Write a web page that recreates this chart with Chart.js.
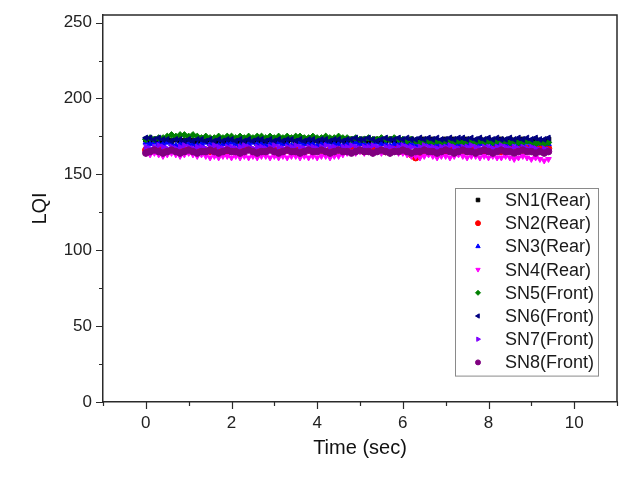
<!DOCTYPE html>
<html>
<head>
<meta charset="utf-8">
<script src="https://cdn.jsdelivr.net/npm/chart.js@4/dist/chart.umd.min.js"></script>
<style>
  html, body { margin: 0; padding: 0; background: #fff; }
  #wrap { width: 643px; height: 477px; }
</style>
</head>
<body>
<div id="wrap"><canvas id="lqi-chart" width="643" height="477"></canvas></div>
<script>
// time stamps (sec)
const times = [0,0.1,0.2,0.3,0.4,0.5,0.6,0.7,0.8,0.9, 1,1.1,1.2,1.3,1.4,1.5,1.6,1.7,1.8,1.9,
    2,2.1,2.2,2.3,2.4,2.5,2.6,2.7,2.8,2.9, 3,3.1,3.2,3.3,3.4,3.5,3.6,3.7,3.8,3.9,
    4,4.1,4.2,4.3,4.4,4.5,4.6,4.7,4.8,4.9, 5,5.1,5.2,5.3,5.4,5.5,5.6,5.7,5.8,5.9,
    6,6.1,6.2,6.3,6.4,6.5,6.6,6.7,6.8,6.9, 7,7.1,7.2,7.3,7.4,7.5,7.6,7.7,7.8,7.9,
    8,8.1,8.2,8.3,8.4,8.5,8.6,8.7,8.8,8.9, 9,9.1,9.2,9.3,9.4];

const sn1Rear = [173,172,173,172,172,173,172,173,172,172, 173,172,172,173,172,173,172,172,173,172,
    172,173,172,172,173,172,173,172,172,173, 172,172,173,172,173,172,172,173,172,172,
    173,172,172,173,172,172,173,172,173,172, 172,173,172,172,173,172,172,173,172,173,
    172,172,173,172,172,173,172,173,172,172, 173,172,173,172,172,173,172,172,173,172,
    173,172,172,173,172,173,172,172,173,172, 172,173,172,172,173];
const sn2Rear = [166,165,166,167,166,165,166,166,167,166, 165,166,167,166,166,165,166,167,166,165,
    166,166,165,166,167,166,165,166,166,167, 166,165,166,166,167,166,165,166,166,167,
    166,166,165,166,167,166,166,165,166,167, 166,165,166,167,166,166,165,166,167,166,
    165,166,163,161,164,166,165,166,167,166, 165,166,166,167,166,165,166,167,166,165,
    166,167,166,165,166,167,166,167,166,167, 167,166,167,168,167];
const sn3Rear = [171,170,171,170,170,171,170,169,170,171, 170,170,169,170,171,170,170,169,170,170,
    171,170,169,170,170,171,170,170,169,170, 170,171,170,170,169,170,171,170,170,170,
    169,170,170,171,170,170,169,170,170,171, 170,170,169,170,171,170,170,169,170,170,
    171,170,170,169,170,171,170,170,170,169, 170,171,170,170,169,170,171,171,170,170,
    171,170,170,171,170,170,171,170,170,171, 170,170,171,170,170];
const sn4Rear = [164,163,164,163,162,163,164,163,162,163, 164,163,162,163,162,161,162,161,162,162,
    161,162,161,162,161,162,161,162,162,161, 162,161,162,161,162,162,161,162,161,162,
    161,162,162,161,162,162,163,164,165,164, 165,164,165,164,165,164,165,164,165,164,
    164,163,162,162,161,162,163,162,161,162, 162,161,162,163,162,161,162,162,161,162,
    161,162,161,161,162,161,160,161,162,161, 160,161,160,159,160];
const sn5Front = [173,174,173,174,174,175,176,175,176,176, 175,176,175,174,175,174,174,175,174,175,
    175,174,175,174,175,174,175,175,174,175, 174,175,174,175,174,175,175,174,174,175,
    174,174,175,174,174,175,174,174,173,174, 173,173,174,173,173,174,173,173,174,173,
    173,172,173,172,171,172,172,171,172,171, 172,172,171,172,171,172,172,171,172,171,
    172,171,172,171,172,171,172,171,171,172, 171,170,171,170,171];
const sn6Front = [174,174,173,174,173,173,172,173,173,172, 173,172,173,173,172,173,172,173,172,173,
    173,172,173,172,173,172,173,173,172,173, 172,173,172,173,173,172,173,172,173,173,
    172,173,173,172,173,173,172,173,173,174, 173,173,174,173,172,173,174,173,173,174,
    173,174,173,173,174,173,174,173,174,173, 173,174,173,174,174,173,174,173,174,173,
    174,173,174,173,173,174,173,174,173,174, 173,174,173,173,174];
const sn7Front = [168,167,168,169,168,167,168,167,168,169, 168,167,168,168,167,168,169,168,167,168,
    168,167,168,169,168,167,168,168,167,168, 169,168,167,168,168,169,168,167,168,168,
    167,168,169,168,168,167,168,168,169,168, 167,168,168,169,168,167,168,168,167,168,
    169,168,168,167,168,169,168,168,167,168, 168,169,168,167,168,168,169,168,167,168,
    168,167,168,169,168,167,168,167,168,167, 168,167,166,167,166];
const sn8Front = [164,165,166,165,164,165,166,165,164,165, 166,165,164,165,165,166,165,164,165,166,
    165,165,164,165,166,165,164,165,165,166, 165,164,165,166,165,165,164,165,166,165,
    165,166,165,164,165,166,165,165,164,165, 166,165,165,164,165,166,165,164,165,165,
    166,165,164,165,165,166,165,165,164,165, 166,165,164,165,166,165,165,164,165,166,
    165,164,165,166,165,165,164,165,166,165, 165,164,165,164,165];

const seriesNames = ["SN1(Rear)", "SN2(Rear)", "SN3(Rear)", "SN4(Rear)",
    "SN5(Front)", "SN6(Front)", "SN7(Front)", "SN8(Front)"];
const seriesValues = [sn1Rear, sn2Rear, sn3Rear, sn4Rear, sn5Front, sn6Front, sn7Front, sn8Front];
const seriesColors = ["#000000", "#ff0000", "#0000ff", "#ff00ff",
    "#008000", "#000080", "#8000ff", "#800080"];
const seriesStyles = ["rect", "circle", "triangle", "triangle",
    "rectRot", "triangle", "triangle", "circle"];
const seriesRotation = [0, 0, 0, 180, 0, 270, 90, 0];

const xMajorTicks = [0, 2, 4, 6, 8, 10];
const xMinorTicks = [-1, 1, 3, 5, 7, 9, 11];
const yMajorTicks = [0, 50, 100, 150, 200, 250];
const yMinorTicks = [25, 75, 125, 175, 225];

const FONT = "'Liberation Sans', Arial, sans-serif";
const AXIS_COLOR = "#2a2a2a";

const lqiDatasets = seriesNames.map((name, i) => ({
    label: name,
    data: times.map((t, k) => ({ x: t, y: seriesValues[i][k] })),
    showLine: false,
    pointStyle: seriesStyles[i],
    rotation: seriesRotation[i],
    pointRadius: 3.3,
    pointBorderWidth: 1,
    borderColor: seriesColors[i],
    backgroundColor: seriesColors[i],
    order: seriesNames.length - i,
}));

// frame, outward tick marks and boxed legend like the original plot
const framePlugin = {
    id: "frame",
    afterDraw(chart) {
        const ctx = chart.ctx;
        const area = chart.chartArea;
        const xs = chart.scales.x;
        const ys = chart.scales.y;
        ctx.save();
        ctx.strokeStyle = AXIS_COLOR;
        ctx.lineWidth = 1.5;
        ctx.beginPath();
        ctx.moveTo(area.left, area.top);
        ctx.lineTo(area.right, area.top);
        ctx.lineTo(area.right, area.bottom);
        ctx.stroke();

        ctx.lineWidth = 1.2;
        ctx.beginPath();
        yMajorTicks.forEach(v => {
            const py = Math.round(ys.getPixelForValue(v)) + 0.5;
            ctx.moveTo(area.left, py); ctx.lineTo(area.left - 7, py);
        });
        yMinorTicks.forEach(v => {
            const py = Math.round(ys.getPixelForValue(v)) + 0.5;
            ctx.moveTo(area.left, py); ctx.lineTo(area.left - 4, py);
        });
        xMajorTicks.forEach(v => {
            const px = Math.round(xs.getPixelForValue(v)) + 0.5;
            ctx.moveTo(px, area.bottom); ctx.lineTo(px, area.bottom + 7);
        });
        xMinorTicks.forEach(v => {
            const px = Math.round(xs.getPixelForValue(v)) + 0.5;
            ctx.moveTo(px, area.bottom); ctx.lineTo(px, area.bottom + 4);
        });
        ctx.stroke();

        // legend box
        const boxRight = area.right - 19;
        const boxLeft = boxRight - 143;
        const boxTop = area.top + 173;
        const rowH = 23.2;
        const boxBottom = boxTop + rowH * seriesNames.length + 2;
        ctx.strokeStyle = "#8a8a8a";
        ctx.lineWidth = 1;
        ctx.strokeRect(boxLeft + 0.5, boxTop + 0.5, boxRight - boxLeft, boxBottom - boxTop);
        ctx.font = "18px " + FONT;
        ctx.textBaseline = "middle";
        ctx.textAlign = "left";
        seriesNames.forEach((name, i) => {
            const cy = boxTop + 12 + i * rowH;
            const cx = boxLeft + 23;
            ctx.fillStyle = seriesColors[i];
            ctx.strokeStyle = seriesColors[i];
            Chart.helpers.drawPoint(ctx, {
                pointStyle: seriesStyles[i],
                rotation: seriesRotation[i],
                radius: 2.5,
                borderWidth: 1,
            }, cx, cy);
            ctx.fillStyle = "#1a1a1a";
            ctx.fillText(name, boxLeft + 50, cy + 1);
        });
        ctx.restore();
    },
};

const lqiConfig = {
    type: "scatter",
    data: { datasets: lqiDatasets },
    options: {
        responsive: false,
        animation: false,
        layout: { padding: { left: 0, right: 26, top: 15, bottom: 0 } },
        plugins: {
            legend: { display: false },
            tooltip: { enabled: false },
        },
        scales: {
            x: {
                type: "linear",
                min: -1,
                max: 11,
                afterFit(scale) { scale.height = 75; scale.paddingLeft = 0; scale.paddingRight = 0; },
                afterBuildTicks(scale) { scale.ticks = xMajorTicks.map(v => ({ value: v })); },
                grid: { display: false, drawTicks: false },
                border: { display: true, color: AXIS_COLOR, width: 1.5 },
                ticks: { padding: 11, color: "#222", font: { family: FONT, size: 17 }, maxRotation: 0 },
                title: {
                    display: true,
                    text: "Time (sec)",
                    color: "#111",
                    font: { family: FONT, size: 20 },
                    padding: { top: 0, bottom: 17 },
                },
            },
            y: {
                type: "linear",
                min: 0,
                max: 255,
                afterFit(scale) { scale.width = 103; scale.paddingTop = 0; scale.paddingBottom = 0; },
                afterBuildTicks(scale) { scale.ticks = yMajorTicks.map(v => ({ value: v })); },
                grid: { display: false, drawTicks: false },
                border: { display: true, color: AXIS_COLOR, width: 1.5 },
                ticks: { padding: 11, color: "#222", font: { family: FONT, size: 17 } },
                title: {
                    display: true,
                    text: "LQI",
                    color: "#111",
                    font: { family: FONT, size: 20 },
                    padding: { top: 28, bottom: 0 },
                },
            },
        },
    },
    plugins: [framePlugin],
};

const lqiChart = new Chart(document.getElementById("lqi-chart"), lqiConfig);
</script>
</body>
</html>
